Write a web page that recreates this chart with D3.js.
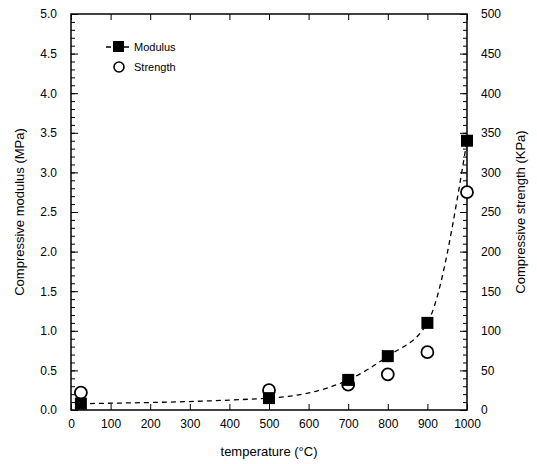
<!DOCTYPE html>
<html><head><meta charset="utf-8">
<script src="https://cdn.jsdelivr.net/npm/d3@7"></script>
<style>body{margin:0;background:#fff}text{font-family:"Liberation Sans",Arial,sans-serif;fill:#000}</style>
</head><body><svg id="c" width="537" height="464"></svg>
<script>
const temperature = [25, 500, 700, 800, 900, 1000];
const modulus = [0.08, 0.15, 0.38, 0.68, 1.1, 3.4];
const strength = [22, 25, 32, 45, 73, 275];
const xTicks = [0,100,200,300,400,500,600,700,800,900,1000];
const yLeftTicks = [0,0.5,1.0,1.5,2.0,2.5,3.0,3.5,4.0,4.5,5.0];
const yRightTicks = [0,50,100,150,200,250,300,350,400,450,500];

const svg = d3.select("#c");
const L=71,R=467,T=14,B=410;
const x = d3.scaleLinear().domain([0,1000]).range([L,R]);
const yL = d3.scaleLinear().domain([0,5]).range([B,T]);
const yR = d3.scaleLinear().domain([0,500]).range([B,T]);

const g = svg.append("g");
// frame
g.append("rect").attr("x",L).attr("y",T).attr("width",R-L).attr("height",B-T)
 .attr("fill","none").attr("stroke","#000").attr("stroke-width",1.5);

// bottom axis
const bx = d3.axisBottom(x).tickValues(xTicks).tickSize(-6).tickPadding(9).tickFormat(d3.format("d"));
const ax = svg.append("g").attr("transform",`translate(0,${B})`).call(bx);
ax.select(".domain").remove();
ax.selectAll("text").attr("font-size",12);
// top ticks
const tx = svg.append("g").attr("transform",`translate(0,${T})`).call(d3.axisTop(x).tickValues(xTicks).tickSize(-6).tickFormat(""));
tx.select(".domain").remove();

// left axis
const ly = svg.append("g").attr("transform",`translate(${L},0)`)
 .call(d3.axisLeft(yL).tickValues(yLeftTicks).tickSize(-7).tickPadding(14).tickFormat(d3.format(".1f")));
ly.select(".domain").remove();
ly.selectAll("text").attr("font-size",12);
const lyMinor = svg.append("g").attr("transform",`translate(${L},0)`)
 .call(d3.axisLeft(yL).tickValues(d3.range(0,5.01,0.1)).tickSize(-4).tickFormat(""));
lyMinor.select(".domain").remove();

// right axis
const ry = svg.append("g").attr("transform",`translate(${R},0)`)
 .call(d3.axisRight(yR).tickValues(yRightTicks).tickSize(-7).tickPadding(14).tickFormat(d3.format("d")));
ry.select(".domain").remove();
ry.selectAll("text").attr("font-size",12);
const ryMinor = svg.append("g").attr("transform",`translate(${R},0)`)
 .call(d3.axisRight(yR).tickValues(d3.range(0,501,10)).tickSize(-4).tickFormat(""));
ryMinor.select(".domain").remove();

// dashed fit curve
const pts = temperature.map((t,i)=>[t,modulus[i]]);
const line = d3.line().x(d=>x(d[0])).y(d=>yL(d[1])).curve(d3.curveMonotoneX);
svg.append("path").datum(pts).attr("d",line).attr("fill","none")
 .attr("stroke","#000").attr("stroke-width",1.3).attr("stroke-dasharray","5,4");

// strength circles
svg.selectAll("circle.s").data(temperature).enter().append("circle")
 .attr("cx",d=>x(d)).attr("cy",(d,i)=>yR(strength[i])).attr("r",6)
 .attr("fill","#fff").attr("stroke","#000").attr("stroke-width",1.8);
// modulus squares
const sz=12;
svg.selectAll("rect.m").data(temperature).enter().append("rect")
 .attr("x",d=>x(d)-sz/2).attr("y",(d,i)=>yL(modulus[i])-sz/2).attr("width",sz).attr("height",sz)
 .attr("fill","#000");

// legend
const lg = svg.append("g");
lg.append("line").attr("x1",106).attr("x2",130).attr("y1",47).attr("y2",47)
 .attr("stroke","#000").attr("stroke-width",1.3).attr("stroke-dasharray","5,4").attr("stroke-dashoffset",0);
lg.append("rect").attr("x",113).attr("y",41).attr("width",11).attr("height",11).attr("fill","#000");
lg.append("text").attr("x",134).attr("y",51).attr("font-size",11).text("Modulus");
lg.append("circle").attr("cx",119).attr("cy",67).attr("r",5).attr("fill","#fff").attr("stroke","#000").attr("stroke-width",1.6);
lg.append("text").attr("x",134).attr("y",71).attr("font-size",11).text("Strength");

// axis titles
svg.append("text").attr("x",269).attr("y",456).attr("text-anchor","middle").attr("font-size",13).text("temperature (°C)");
svg.append("text").attr("transform","translate(24,212) rotate(-90)").attr("text-anchor","middle").attr("font-size",13).text("Compressive modulus (MPa)");
svg.append("text").attr("transform","translate(525,212) rotate(-90)").attr("text-anchor","middle").attr("font-size",13).text("Compressive strength (KPa)");
</script></body></html>
